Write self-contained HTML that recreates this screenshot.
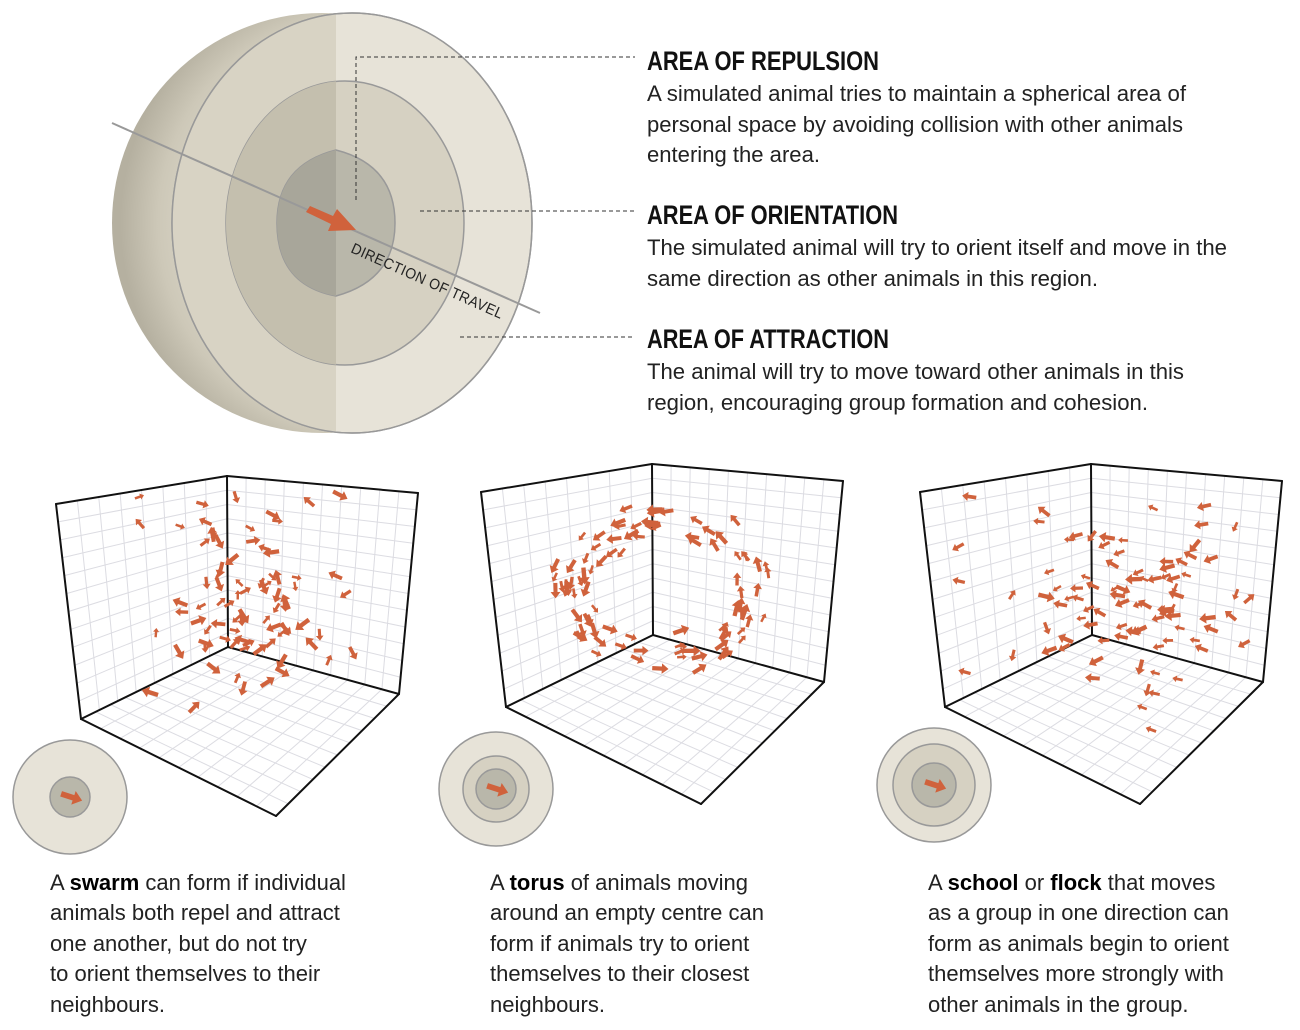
<!DOCTYPE html>
<html><head><meta charset="utf-8"><style>
html,body{margin:0;padding:0;background:#fff;width:1300px;height:1030px;overflow:hidden}
svg{display:block}
.h{font-family:"Liberation Sans Narrow","Liberation Sans",sans-serif;font-weight:bold;font-size:27px;fill:#111}
.b{font-family:"Liberation Sans Narrow","Liberation Sans",sans-serif;font-size:22px;fill:#222}
</style></head><body>
<svg id="s" width="1300" height="1030" viewBox="0 0 1300 1030" xmlns="http://www.w3.org/2000/svg">
<defs>
<radialGradient id="sg" cx="0.62" cy="0.5" r="0.6">
<stop offset="0.55" stop-color="#e3dfd2"/><stop offset="0.85" stop-color="#cdc8b8"/><stop offset="1" stop-color="#b5b0a0"/>
</radialGradient>
<clipPath id="lh"><rect x="0" y="0" width="336" height="440"/></clipPath>
<clipPath id="bk"><rect x="0" y="0" width="340" height="440"/></clipPath>
<path id="ar" d="M-8,-2.2 L2,-2.2 L2,-5.5 L9,0 L2,5.5 L2,2.2 L-8,2.2 Z" fill="#d0623c"/>
</defs>
<ellipse cx="322" cy="223" rx="210" ry="210" fill="url(#sg)" clip-path="url(#bk)"/>
<ellipse cx="352" cy="223" rx="180" ry="210" fill="#e7e3d8" stroke="#999" stroke-width="1.5"/>
<ellipse cx="352" cy="223" rx="180" ry="210" fill="#d8d3c4" clip-path="url(#lh)"/>
<ellipse cx="345" cy="223" rx="119" ry="142" fill="#d6d1c2" stroke="#999" stroke-width="1.5"/>
<ellipse cx="345" cy="223" rx="119" ry="142" fill="#c4bfae" clip-path="url(#lh)"/>
<path d="M336,150 Q395,165 395,223 Q395,280 336,296 Q277,285 277,223 Q277,165 336,150Z" fill="#b9b7aa" stroke="#999" stroke-width="1.5"/>
<path d="M336,150 Q277,165 277,223 Q277,285 336,296Z" fill="#a8a69a"/>
<ellipse cx="352" cy="223" rx="180" ry="210" fill="none" stroke="#999" stroke-width="1.5"/>
<line x1="112" y1="123" x2="540" y2="313" stroke="#999" stroke-width="2"/>
<path d="M306,212 L310,206 L333,216 L337,209 L356,230 L328,231 L331,224Z" fill="#d0623c"/>
<text x="350" y="252" transform="rotate(24 350 252)" font-family="Liberation Sans Narrow, Liberation Sans, sans-serif" font-size="15" fill="#222" letter-spacing="0.5" textLength="165" lengthAdjust="spacingAndGlyphs">DIRECTION OF TRAVEL</text>
<g stroke="#333" stroke-width="1" stroke-dasharray="4,3" fill="none">
<path d="M356,200 V57 H635"/><path d="M420,211 H635"/><path d="M460,337 H635"/>
</g>
<text class="h" x="647" y="70" textLength="232" lengthAdjust="spacingAndGlyphs">AREA OF REPULSION</text>
<text class="b" x="647" y="101" textLength="539" lengthAdjust="spacingAndGlyphs">A simulated animal tries to maintain a spherical area of</text>
<text class="b" x="647" y="132" textLength="536" lengthAdjust="spacingAndGlyphs">personal space by avoiding collision with other animals</text>
<text class="b" x="647" y="162" textLength="173" lengthAdjust="spacingAndGlyphs">entering the area.</text>
<text class="h" x="647" y="224" textLength="251" lengthAdjust="spacingAndGlyphs">AREA OF ORIENTATION</text>
<text class="b" x="647" y="255" textLength="580" lengthAdjust="spacingAndGlyphs">The simulated animal will try to orient itself and move in the</text>
<text class="b" x="647" y="286" textLength="451" lengthAdjust="spacingAndGlyphs">same direction as other animals in this region.</text>
<text class="h" x="647" y="348" textLength="242" lengthAdjust="spacingAndGlyphs">AREA OF ATTRACTION</text>
<text class="b" x="647" y="379" textLength="537" lengthAdjust="spacingAndGlyphs">The animal will try to move toward other animals in this</text>
<text class="b" x="647" y="410" textLength="501" lengthAdjust="spacingAndGlyphs">region, encouraging group formation and cohesion.</text>
<g id="cubes"></g>
<circle cx="70" cy="797" r="57" fill="#e7e3d8" stroke="#999" stroke-width="1.5"/>
<circle cx="70" cy="797" r="20" fill="#b9b7aa" stroke="#999" stroke-width="1.5"/>
<use href="#ar" transform="translate(71,797) rotate(18) scale(1.3)"/>
<circle cx="496" cy="789" r="57" fill="#e7e3d8" stroke="#999" stroke-width="1.5"/>
<circle cx="496" cy="789" r="33" fill="#d6d1c2" stroke="#999" stroke-width="1.5"/>
<circle cx="496" cy="789" r="20" fill="#b9b7aa" stroke="#999" stroke-width="1.5"/>
<use href="#ar" transform="translate(497,789) rotate(18) scale(1.3)"/>
<circle cx="934" cy="785" r="57" fill="#e7e3d8" stroke="#999" stroke-width="1.5"/>
<circle cx="934" cy="785" r="41" fill="#d6d1c2" stroke="#999" stroke-width="1.5"/>
<circle cx="934" cy="785" r="22" fill="#b9b7aa" stroke="#999" stroke-width="1.5"/>
<use href="#ar" transform="translate(935,785) rotate(18) scale(1.3)"/>
<g class="b">
<text x="50" y="890">A <tspan font-weight="bold" fill="#000">swarm</tspan> can form if individual</text>
<text x="50" y="920">animals both repel and attract</text>
<text x="50" y="951">one another, but do not try</text>
<text x="50" y="981">to orient themselves to their</text>
<text x="50" y="1012">neighbours.</text>
<text x="490" y="890">A <tspan font-weight="bold" fill="#000">torus</tspan> of animals moving</text>
<text x="490" y="920">around an empty centre can</text>
<text x="490" y="951">form if animals try to orient</text>
<text x="490" y="981">themselves to their closest</text>
<text x="490" y="1012">neighbours.</text>
<text x="928" y="890">A <tspan font-weight="bold" fill="#000">school</tspan> or <tspan font-weight="bold" fill="#000">flock</tspan> that moves</text>
<text x="928" y="920">as a group in one direction can</text>
<text x="928" y="951">form as animals begin to orient</text>
<text x="928" y="981">themselves more strongly with</text>
<text x="928" y="1012">other animals in the group.</text>
</g>
</svg>
<script>
(function(){
var NS="http://www.w3.org/2000/svg",g=document.getElementById("cubes");
function el(n,a){var e=document.createElementNS(NS,n);for(var k in a)e.setAttribute(k,a[k]);g.appendChild(e);return e;}
var seed=7;function r(){seed=(seed*16807)%2147483647;return (seed-1)/2147483646;}
function L(p,q,t){return [p[0]+(q[0]-p[0])*t,p[1]+(q[1]-p[1])*t];}
function grid(p1,p2,p3,p4,nu,nv){
 for(var i=1;i<nu;i++){var a=L(p1,p2,i/nu),b=L(p4,p3,i/nu);el("line",{x1:a[0],y1:a[1],x2:b[0],y2:b[1],stroke:"#dcdce2","stroke-width":1});}
 for(var j=1;j<nv;j++){var a=L(p1,p4,j/nv),b=L(p2,p3,j/nv);el("line",{x1:a[0],y1:a[1],x2:b[0],y2:b[1],stroke:"#dcdce2","stroke-width":1});}
}
var offs=[[0,0],[425,-12],[864,-12]];
offs.forEach(function(o,ci){
 function P(x,y){return [x+o[0],y+o[1]];}
 var A=P(56,504),B=P(227,476),C=P(418,493),D=P(228,647),E=P(81,719),F=P(399,694),G=P(276,816);
 grid(A,B,D,E,8,12);grid(B,C,F,D,10,12);grid(E,D,F,G,10,10);
 [[A,B],[B,C],[B,D],[A,E],[C,F],[E,D],[D,F],[E,G],[G,F]].forEach(function(s){
  el("line",{x1:s[0][0],y1:s[0][1],x2:s[1][0],y2:s[1][1],stroke:"#111","stroke-width":2,"stroke-linecap":"round"});});
 var n=ci==0?80:90;
 for(var k=0;k<n;k++){
  var x,y,ang,sc=0.55+r()*0.45;
  if(ci==0){x=245+(r()+r()+r()-1.5)*90;y=585+(r()+r()+r()-1.5)*110;ang=r()*360;}
  else if(ci==1){var t=r()*6.283,rr=0.8+r()*0.35;x=662+Math.cos(t)*95*rr+(r()-0.5)*12;y=590+Math.sin(t)*68*rr+(r()-0.5)*25;
   ang=(t+1.5708)*57.3+(r()-0.5)*40+180;}
  else{x=1110+(r()+r()+r()-1.5)*140;y=600+(r()+r()+r()-1.5)*100;ang=180+(r()-0.5)*60;if(r()<0.15)ang=100+r()*30;if(r()<0.1)ang=r()*360;}
  if(y<495+o[1])y=495+o[1]+r()*20;
  el("use",{href:"#ar",transform:"translate("+x.toFixed(1)+","+y.toFixed(1)+") rotate("+ang.toFixed(0)+") scale("+sc.toFixed(2)+")"});
 }
});
})();
</script>
</body></html>
